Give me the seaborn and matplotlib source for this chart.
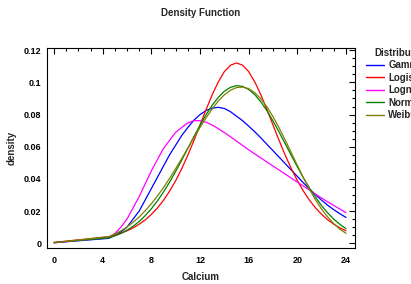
import pandas as pd
import matplotlib
matplotlib.use('Agg')
import matplotlib.pyplot as plt
from matplotlib.ticker import MultipleLocator
import seaborn as sns

# values
calcium = [0, 4.5, 5, 5.5, 6, 6.5, 7, 7.5, 8, 8.5, 9, 9.5, 10, 10.5, 11, 11.5, 12, 12.5,
           13, 13.5, 14, 14.5, 15, 15.5, 16, 16.5, 17, 17.5, 18, 18.5, 19, 19.5, 20, 20.5,
           21, 21.5, 22, 22.5, 23, 23.5, 24]
gamma = [0.0003, 0.003, 0.005, 0.007, 0.010, 0.015, 0.020, 0.027, 0.034, 0.041, 0.048, 0.055,
         0.061, 0.067, 0.072, 0.0765, 0.080, 0.0825, 0.084, 0.0845, 0.0838, 0.0818, 0.079,
         0.0762, 0.0728, 0.0693, 0.0655, 0.0615, 0.0575, 0.0535, 0.0495, 0.0455, 0.0415,
         0.0375, 0.0337, 0.0301, 0.0267, 0.0236, 0.0208, 0.0183, 0.016]
logistic = [0.0005, 0.0040, 0.0050, 0.0062, 0.0077, 0.0095, 0.0118, 0.0145, 0.0179, 0.0219,
            0.0267, 0.0324, 0.0389, 0.0464, 0.0548, 0.0639, 0.0735, 0.0831, 0.0923, 0.1003,
            0.1067, 0.1107, 0.1121, 0.1107, 0.1067, 0.1003, 0.0923, 0.0831, 0.0735, 0.0639,
            0.0548, 0.0464, 0.0389, 0.0324, 0.0267, 0.0219, 0.0179, 0.0145, 0.0118, 0.0095, 0.0077]
lognormal = [0.0002, 0.0035, 0.006, 0.010, 0.015, 0.022, 0.029, 0.037, 0.045, 0.052, 0.059,
             0.064, 0.069, 0.072, 0.0748, 0.0762, 0.0762, 0.0752, 0.0735, 0.0712, 0.0688,
             0.0662, 0.0635, 0.0608, 0.0581, 0.0555, 0.053, 0.0505, 0.048, 0.0455, 0.043,
             0.0405, 0.038, 0.0355, 0.033, 0.0305, 0.028, 0.0257, 0.0234, 0.0212, 0.019]
normal = [0.0004, 0.0033, 0.0045, 0.0061, 0.0081, 0.0105, 0.0135, 0.0172, 0.0214, 0.0263,
          0.0319, 0.0380, 0.0447, 0.0517, 0.0590, 0.0663, 0.0733, 0.0799, 0.0858, 0.0907,
          0.0945, 0.0969, 0.0980, 0.0975, 0.0956, 0.0924, 0.0879, 0.0824, 0.0760, 0.0691,
          0.0619, 0.0546, 0.0475, 0.0406, 0.0343, 0.0285, 0.0233, 0.0188, 0.0149, 0.0117, 0.0090]
weibull = [0.0003, 0.0041, 0.0057, 0.0077, 0.0101, 0.0130, 0.0163, 0.0202, 0.0245, 0.0294,
           0.0346, 0.0404, 0.0464, 0.0527, 0.0592, 0.0657, 0.0720, 0.0780, 0.0835, 0.0884,
           0.0923, 0.0951, 0.0968, 0.0971, 0.0961, 0.0936, 0.0898, 0.0848, 0.0787, 0.0717,
           0.0642, 0.0563, 0.0484, 0.0407, 0.0335, 0.0269, 0.0211, 0.0162, 0.0121, 0.0087, 0.0061]

names = ['Gamma', 'Logistic', 'Lognormal', 'Normal', 'Weibull']
colors = ['#0000ff', '#ff0000', '#ff00ff', '#008000', '#808000']

rows = []
for name, vals in zip(names, [gamma, logistic, lognormal, normal, weibull]):
    for x, y in zip(calcium, vals):
        rows.append({'Calcium': x, 'density': y, 'Distribution': name})
df = pd.DataFrame(rows)

sns.set_style('white')
plt.rcParams['font.family'] = ['Liberation Sans Narrow', 'Liberation Sans', 'DejaVu Sans']
plt.rcParams['font.weight'] = 'bold'

fig = plt.figure(figsize=(4.11, 2.84), dpi=100)
ax = fig.add_axes([47/411, 1-248/284, 308/411, 200/284])

sns.lineplot(data=df, x='Calcium', y='density', hue='Distribution', hue_order=names,
             palette=colors, linewidth=0.9, ax=ax, legend=False)

ax.set_xlim(-0.58, 24.74)
ax.set_ylim(-0.0030, 0.1214)
ax.xaxis.set_major_locator(MultipleLocator(4))
ax.xaxis.set_minor_locator(MultipleLocator(1))
ax.yaxis.set_minor_locator(MultipleLocator(0.005))
ax.set_yticks([0, 0.02, 0.04, 0.06, 0.08, 0.1, 0.12])
ax.set_yticklabels(['0', '0.02', '0.04', '0.06', '0.08', '0.1', '0.12'])
ax.tick_params(which='both', direction='in', top=True, right=True, width=0.8,
               labelsize=6.5, colors='black')
ax.tick_params(which='major', length=4, pad=4)
ax.tick_params(axis='x', which='major', pad=5.5)
ax.tick_params(which='minor', length=2)
for s in ax.spines.values():
    s.set_visible(True)
    s.set_color('black')
    s.set_linewidth(0.8)

ax.set_title('Density Function', fontsize=7, fontweight='bold', pad=23)
ax.set_xlabel('Calcium', fontsize=7, fontweight='bold', labelpad=5)
ax.set_ylabel('density', fontsize=7, fontweight='bold', labelpad=5)

handles = [plt.Line2D([], [], color=c, linewidth=1.0) for c in colors]
leg = ax.legend(handles, names, title='Distribution', loc='upper left',
                bbox_to_anchor=(366/411, 1-48/284), bbox_transform=fig.transFigure,
                frameon=False, fontsize=7, title_fontsize=7, handlelength=1.8,
                handletextpad=0.5, labelspacing=0.25, borderpad=0, borderaxespad=0,
                alignment='center')
leg.get_title().set_fontweight('bold')

fig.savefig('out.png', dpi=100)
